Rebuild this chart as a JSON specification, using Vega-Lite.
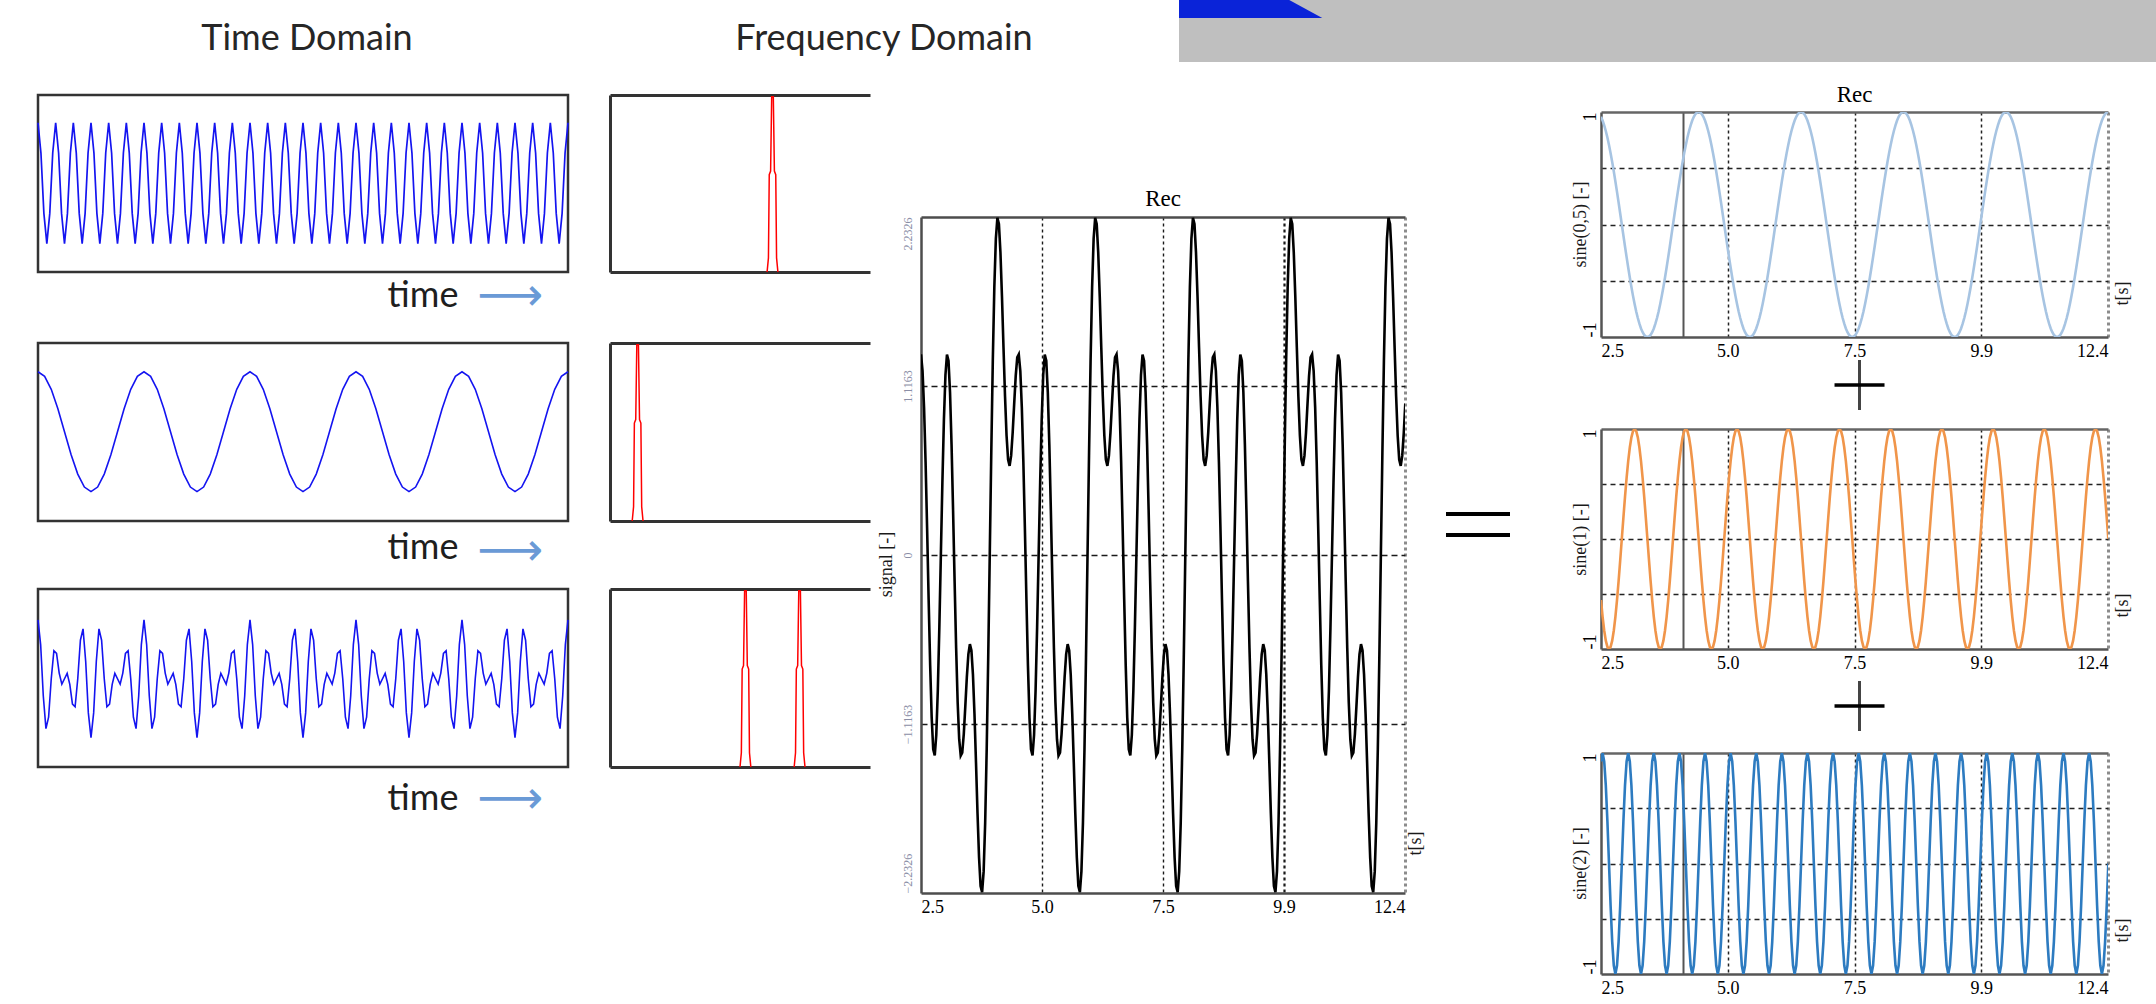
{
"$schema": "https://vega.github.io/schema/vega-lite/v6.json",
"background": "white",
"padding": {"left": 33, "top": 0, "right": 0, "bottom": 0},
"config": {
  "view": {"stroke": null},
  "axis": {"labelFont": "Liberation Serif", "titleFont": "Liberation Serif", "labelColor": "#000", "titleColor": "#1a1a1a", "titleFontWeight": "normal", "ticks": false, "tickSize": 0, "labelFontSize": 18, "titleFontSize": 18}
},
"datasets": {
"waves": [
{"t":2.5,"a":0.9569,"b":-0.5556,"c":0.9239,"s":1.3252},
{"t":2.53125,"a":0.9239,"b":-0.7071,"c":1,"s":1.2168},
{"t":2.5625,"a":0.8819,"b":-0.8315,"c":0.9239,"s":0.9743},
{"t":2.59375,"a":0.8315,"b":-0.9239,"c":0.7071,"s":0.6147},
{"t":2.625,"a":0.773,"b":-0.9808,"c":0.3827,"s":0.1749},
{"t":2.65625,"a":0.7071,"b":-1,"c":0,"s":-0.2929},
{"t":2.6875,"a":0.6344,"b":-0.9808,"c":-0.3827,"s":-0.7291},
{"t":2.71875,"a":0.5556,"b":-0.9239,"c":-0.7071,"s":-1.0754},
{"t":2.75,"a":0.4714,"b":-0.8315,"c":-0.9239,"s":-1.284},
{"t":2.78125,"a":0.3827,"b":-0.7071,"c":-1,"s":-1.3244},
{"t":2.8125,"a":0.2903,"b":-0.5556,"c":-0.9239,"s":-1.1892},
{"t":2.84375,"a":0.1951,"b":-0.3827,"c":-0.7071,"s":-0.8947},
{"t":2.875,"a":0.098,"b":-0.1951,"c":-0.3827,"s":-0.4798},
{"t":2.90625,"a":0,"b":0,"c":0,"s":0},
{"t":2.9375,"a":-0.098,"b":0.1951,"c":0.3827,"s":0.4798},
{"t":2.96875,"a":-0.1951,"b":0.3827,"c":0.7071,"s":0.8947},
{"t":3,"a":-0.2903,"b":0.5556,"c":0.9239,"s":1.1892},
{"t":3.03125,"a":-0.3827,"b":0.7071,"c":1,"s":1.3244},
{"t":3.0625,"a":-0.4714,"b":0.8315,"c":0.9239,"s":1.284},
{"t":3.09375,"a":-0.5556,"b":0.9239,"c":0.7071,"s":1.0754},
{"t":3.125,"a":-0.6344,"b":0.9808,"c":0.3827,"s":0.7291},
{"t":3.15625,"a":-0.7071,"b":1,"c":0,"s":0.2929},
{"t":3.1875,"a":-0.773,"b":0.9808,"c":-0.3827,"s":-0.1749},
{"t":3.21875,"a":-0.8315,"b":0.9239,"c":-0.7071,"s":-0.6147},
{"t":3.25,"a":-0.8819,"b":0.8315,"c":-0.9239,"s":-0.9743},
{"t":3.28125,"a":-0.9239,"b":0.7071,"c":-1,"s":-1.2168},
{"t":3.3125,"a":-0.9569,"b":0.5556,"c":-0.9239,"s":-1.3252},
{"t":3.34375,"a":-0.9808,"b":0.3827,"c":-0.7071,"s":-1.3052},
{"t":3.375,"a":-0.9952,"b":0.1951,"c":-0.3827,"s":-1.1828},
{"t":3.40625,"a":-1,"b":0,"c":0,"s":-1},
{"t":3.4375,"a":-0.9952,"b":-0.1951,"c":0.3827,"s":-0.8076},
{"t":3.46875,"a":-0.9808,"b":-0.3827,"c":0.7071,"s":-0.6564},
{"t":3.5,"a":-0.9569,"b":-0.5556,"c":0.9239,"s":-0.5886},
{"t":3.53125,"a":-0.9239,"b":-0.7071,"c":1,"s":-0.631},
{"t":3.5625,"a":-0.8819,"b":-0.8315,"c":0.9239,"s":-0.7895},
{"t":3.59375,"a":-0.8315,"b":-0.9239,"c":0.7071,"s":-1.0483},
{"t":3.625,"a":-0.773,"b":-0.9808,"c":0.3827,"s":-1.3711},
{"t":3.65625,"a":-0.7071,"b":-1,"c":0,"s":-1.7071},
{"t":3.6875,"a":-0.6344,"b":-0.9808,"c":-0.3827,"s":-1.9979},
{"t":3.71875,"a":-0.5556,"b":-0.9239,"c":-0.7071,"s":-2.1866},
{"t":3.75,"a":-0.4714,"b":-0.8315,"c":-0.9239,"s":-2.2268},
{"t":3.78125,"a":-0.3827,"b":-0.7071,"c":-1,"s":-2.0898},
{"t":3.8125,"a":-0.2903,"b":-0.5556,"c":-0.9239,"s":-1.7698},
{"t":3.84375,"a":-0.1951,"b":-0.3827,"c":-0.7071,"s":-1.2849},
{"t":3.875,"a":-0.098,"b":-0.1951,"c":-0.3827,"s":-0.6758},
{"t":3.90625,"a":0,"b":0,"c":0,"s":0},
{"t":3.9375,"a":0.098,"b":0.1951,"c":0.3827,"s":0.6758},
{"t":3.96875,"a":0.1951,"b":0.3827,"c":0.7071,"s":1.2849},
{"t":4,"a":0.2903,"b":0.5556,"c":0.9239,"s":1.7698},
{"t":4.03125,"a":0.3827,"b":0.7071,"c":1,"s":2.0898},
{"t":4.0625,"a":0.4714,"b":0.8315,"c":0.9239,"s":2.2268},
{"t":4.09375,"a":0.5556,"b":0.9239,"c":0.7071,"s":2.1866},
{"t":4.125,"a":0.6344,"b":0.9808,"c":0.3827,"s":1.9979},
{"t":4.15625,"a":0.7071,"b":1,"c":0,"s":1.7071},
{"t":4.1875,"a":0.773,"b":0.9808,"c":-0.3827,"s":1.3711},
{"t":4.21875,"a":0.8315,"b":0.9239,"c":-0.7071,"s":1.0483},
{"t":4.25,"a":0.8819,"b":0.8315,"c":-0.9239,"s":0.7895},
{"t":4.28125,"a":0.9239,"b":0.7071,"c":-1,"s":0.631},
{"t":4.3125,"a":0.9569,"b":0.5556,"c":-0.9239,"s":0.5886},
{"t":4.34375,"a":0.9808,"b":0.3827,"c":-0.7071,"s":0.6564},
{"t":4.375,"a":0.9952,"b":0.1951,"c":-0.3827,"s":0.8076},
{"t":4.40625,"a":1,"b":0,"c":0,"s":1},
{"t":4.4375,"a":0.9952,"b":-0.1951,"c":0.3827,"s":1.1828},
{"t":4.46875,"a":0.9808,"b":-0.3827,"c":0.7071,"s":1.3052},
{"t":4.5,"a":0.9569,"b":-0.5556,"c":0.9239,"s":1.3252},
{"t":4.53125,"a":0.9239,"b":-0.7071,"c":1,"s":1.2168},
{"t":4.5625,"a":0.8819,"b":-0.8315,"c":0.9239,"s":0.9743},
{"t":4.59375,"a":0.8315,"b":-0.9239,"c":0.7071,"s":0.6147},
{"t":4.625,"a":0.773,"b":-0.9808,"c":0.3827,"s":0.1749},
{"t":4.65625,"a":0.7071,"b":-1,"c":0,"s":-0.2929},
{"t":4.6875,"a":0.6344,"b":-0.9808,"c":-0.3827,"s":-0.7291},
{"t":4.71875,"a":0.5556,"b":-0.9239,"c":-0.7071,"s":-1.0754},
{"t":4.75,"a":0.4714,"b":-0.8315,"c":-0.9239,"s":-1.284},
{"t":4.78125,"a":0.3827,"b":-0.7071,"c":-1,"s":-1.3244},
{"t":4.8125,"a":0.2903,"b":-0.5556,"c":-0.9239,"s":-1.1892},
{"t":4.84375,"a":0.1951,"b":-0.3827,"c":-0.7071,"s":-0.8947},
{"t":4.875,"a":0.098,"b":-0.1951,"c":-0.3827,"s":-0.4798},
{"t":4.90625,"a":0,"b":0,"c":0,"s":0},
{"t":4.9375,"a":-0.098,"b":0.1951,"c":0.3827,"s":0.4798},
{"t":4.96875,"a":-0.1951,"b":0.3827,"c":0.7071,"s":0.8947},
{"t":5,"a":-0.2903,"b":0.5556,"c":0.9239,"s":1.1892},
{"t":5.03125,"a":-0.3827,"b":0.7071,"c":1,"s":1.3244},
{"t":5.0625,"a":-0.4714,"b":0.8315,"c":0.9239,"s":1.284},
{"t":5.09375,"a":-0.5556,"b":0.9239,"c":0.7071,"s":1.0754},
{"t":5.125,"a":-0.6344,"b":0.9808,"c":0.3827,"s":0.7291},
{"t":5.15625,"a":-0.7071,"b":1,"c":0,"s":0.2929},
{"t":5.1875,"a":-0.773,"b":0.9808,"c":-0.3827,"s":-0.1749},
{"t":5.21875,"a":-0.8315,"b":0.9239,"c":-0.7071,"s":-0.6147},
{"t":5.25,"a":-0.8819,"b":0.8315,"c":-0.9239,"s":-0.9743},
{"t":5.28125,"a":-0.9239,"b":0.7071,"c":-1,"s":-1.2168},
{"t":5.3125,"a":-0.9569,"b":0.5556,"c":-0.9239,"s":-1.3252},
{"t":5.34375,"a":-0.9808,"b":0.3827,"c":-0.7071,"s":-1.3052},
{"t":5.375,"a":-0.9952,"b":0.1951,"c":-0.3827,"s":-1.1828},
{"t":5.40625,"a":-1,"b":0,"c":0,"s":-1},
{"t":5.4375,"a":-0.9952,"b":-0.1951,"c":0.3827,"s":-0.8076},
{"t":5.46875,"a":-0.9808,"b":-0.3827,"c":0.7071,"s":-0.6564},
{"t":5.5,"a":-0.9569,"b":-0.5556,"c":0.9239,"s":-0.5886},
{"t":5.53125,"a":-0.9239,"b":-0.7071,"c":1,"s":-0.631},
{"t":5.5625,"a":-0.8819,"b":-0.8315,"c":0.9239,"s":-0.7895},
{"t":5.59375,"a":-0.8315,"b":-0.9239,"c":0.7071,"s":-1.0483},
{"t":5.625,"a":-0.773,"b":-0.9808,"c":0.3827,"s":-1.3711},
{"t":5.65625,"a":-0.7071,"b":-1,"c":0,"s":-1.7071},
{"t":5.6875,"a":-0.6344,"b":-0.9808,"c":-0.3827,"s":-1.9979},
{"t":5.71875,"a":-0.5556,"b":-0.9239,"c":-0.7071,"s":-2.1866},
{"t":5.75,"a":-0.4714,"b":-0.8315,"c":-0.9239,"s":-2.2268},
{"t":5.78125,"a":-0.3827,"b":-0.7071,"c":-1,"s":-2.0898},
{"t":5.8125,"a":-0.2903,"b":-0.5556,"c":-0.9239,"s":-1.7698},
{"t":5.84375,"a":-0.1951,"b":-0.3827,"c":-0.7071,"s":-1.2849},
{"t":5.875,"a":-0.098,"b":-0.1951,"c":-0.3827,"s":-0.6758},
{"t":5.90625,"a":0,"b":0,"c":0,"s":0},
{"t":5.9375,"a":0.098,"b":0.1951,"c":0.3827,"s":0.6758},
{"t":5.96875,"a":0.1951,"b":0.3827,"c":0.7071,"s":1.2849},
{"t":6,"a":0.2903,"b":0.5556,"c":0.9239,"s":1.7698},
{"t":6.03125,"a":0.3827,"b":0.7071,"c":1,"s":2.0898},
{"t":6.0625,"a":0.4714,"b":0.8315,"c":0.9239,"s":2.2268},
{"t":6.09375,"a":0.5556,"b":0.9239,"c":0.7071,"s":2.1866},
{"t":6.125,"a":0.6344,"b":0.9808,"c":0.3827,"s":1.9979},
{"t":6.15625,"a":0.7071,"b":1,"c":0,"s":1.7071},
{"t":6.1875,"a":0.773,"b":0.9808,"c":-0.3827,"s":1.3711},
{"t":6.21875,"a":0.8315,"b":0.9239,"c":-0.7071,"s":1.0483},
{"t":6.25,"a":0.8819,"b":0.8315,"c":-0.9239,"s":0.7895},
{"t":6.28125,"a":0.9239,"b":0.7071,"c":-1,"s":0.631},
{"t":6.3125,"a":0.9569,"b":0.5556,"c":-0.9239,"s":0.5886},
{"t":6.34375,"a":0.9808,"b":0.3827,"c":-0.7071,"s":0.6564},
{"t":6.375,"a":0.9952,"b":0.1951,"c":-0.3827,"s":0.8076},
{"t":6.40625,"a":1,"b":0,"c":0,"s":1},
{"t":6.4375,"a":0.9952,"b":-0.1951,"c":0.3827,"s":1.1828},
{"t":6.46875,"a":0.9808,"b":-0.3827,"c":0.7071,"s":1.3052},
{"t":6.5,"a":0.9569,"b":-0.5556,"c":0.9239,"s":1.3252},
{"t":6.53125,"a":0.9239,"b":-0.7071,"c":1,"s":1.2168},
{"t":6.5625,"a":0.8819,"b":-0.8315,"c":0.9239,"s":0.9743},
{"t":6.59375,"a":0.8315,"b":-0.9239,"c":0.7071,"s":0.6147},
{"t":6.625,"a":0.773,"b":-0.9808,"c":0.3827,"s":0.1749},
{"t":6.65625,"a":0.7071,"b":-1,"c":0,"s":-0.2929},
{"t":6.6875,"a":0.6344,"b":-0.9808,"c":-0.3827,"s":-0.7291},
{"t":6.71875,"a":0.5556,"b":-0.9239,"c":-0.7071,"s":-1.0754},
{"t":6.75,"a":0.4714,"b":-0.8315,"c":-0.9239,"s":-1.284},
{"t":6.78125,"a":0.3827,"b":-0.7071,"c":-1,"s":-1.3244},
{"t":6.8125,"a":0.2903,"b":-0.5556,"c":-0.9239,"s":-1.1892},
{"t":6.84375,"a":0.1951,"b":-0.3827,"c":-0.7071,"s":-0.8947},
{"t":6.875,"a":0.098,"b":-0.1951,"c":-0.3827,"s":-0.4798},
{"t":6.90625,"a":0,"b":0,"c":0,"s":0},
{"t":6.9375,"a":-0.098,"b":0.1951,"c":0.3827,"s":0.4798},
{"t":6.96875,"a":-0.1951,"b":0.3827,"c":0.7071,"s":0.8947},
{"t":7,"a":-0.2903,"b":0.5556,"c":0.9239,"s":1.1892},
{"t":7.03125,"a":-0.3827,"b":0.7071,"c":1,"s":1.3244},
{"t":7.0625,"a":-0.4714,"b":0.8315,"c":0.9239,"s":1.284},
{"t":7.09375,"a":-0.5556,"b":0.9239,"c":0.7071,"s":1.0754},
{"t":7.125,"a":-0.6344,"b":0.9808,"c":0.3827,"s":0.7291},
{"t":7.15625,"a":-0.7071,"b":1,"c":0,"s":0.2929},
{"t":7.1875,"a":-0.773,"b":0.9808,"c":-0.3827,"s":-0.1749},
{"t":7.21875,"a":-0.8315,"b":0.9239,"c":-0.7071,"s":-0.6147},
{"t":7.25,"a":-0.8819,"b":0.8315,"c":-0.9239,"s":-0.9743},
{"t":7.28125,"a":-0.9239,"b":0.7071,"c":-1,"s":-1.2168},
{"t":7.3125,"a":-0.9569,"b":0.5556,"c":-0.9239,"s":-1.3252},
{"t":7.34375,"a":-0.9808,"b":0.3827,"c":-0.7071,"s":-1.3052},
{"t":7.375,"a":-0.9952,"b":0.1951,"c":-0.3827,"s":-1.1828},
{"t":7.40625,"a":-1,"b":0,"c":0,"s":-1},
{"t":7.4375,"a":-0.9952,"b":-0.1951,"c":0.3827,"s":-0.8076},
{"t":7.46875,"a":-0.9808,"b":-0.3827,"c":0.7071,"s":-0.6564},
{"t":7.5,"a":-0.9569,"b":-0.5556,"c":0.9239,"s":-0.5886},
{"t":7.53125,"a":-0.9239,"b":-0.7071,"c":1,"s":-0.631},
{"t":7.5625,"a":-0.8819,"b":-0.8315,"c":0.9239,"s":-0.7895},
{"t":7.59375,"a":-0.8315,"b":-0.9239,"c":0.7071,"s":-1.0483},
{"t":7.625,"a":-0.773,"b":-0.9808,"c":0.3827,"s":-1.3711},
{"t":7.65625,"a":-0.7071,"b":-1,"c":0,"s":-1.7071},
{"t":7.6875,"a":-0.6344,"b":-0.9808,"c":-0.3827,"s":-1.9979},
{"t":7.71875,"a":-0.5556,"b":-0.9239,"c":-0.7071,"s":-2.1866},
{"t":7.75,"a":-0.4714,"b":-0.8315,"c":-0.9239,"s":-2.2268},
{"t":7.78125,"a":-0.3827,"b":-0.7071,"c":-1,"s":-2.0898},
{"t":7.8125,"a":-0.2903,"b":-0.5556,"c":-0.9239,"s":-1.7698},
{"t":7.84375,"a":-0.1951,"b":-0.3827,"c":-0.7071,"s":-1.2849},
{"t":7.875,"a":-0.098,"b":-0.1951,"c":-0.3827,"s":-0.6758},
{"t":7.90625,"a":0,"b":0,"c":0,"s":0},
{"t":7.9375,"a":0.098,"b":0.1951,"c":0.3827,"s":0.6758},
{"t":7.96875,"a":0.1951,"b":0.3827,"c":0.7071,"s":1.2849},
{"t":8,"a":0.2903,"b":0.5556,"c":0.9239,"s":1.7698},
{"t":8.03125,"a":0.3827,"b":0.7071,"c":1,"s":2.0898},
{"t":8.0625,"a":0.4714,"b":0.8315,"c":0.9239,"s":2.2268},
{"t":8.09375,"a":0.5556,"b":0.9239,"c":0.7071,"s":2.1866},
{"t":8.125,"a":0.6344,"b":0.9808,"c":0.3827,"s":1.9979},
{"t":8.15625,"a":0.7071,"b":1,"c":0,"s":1.7071},
{"t":8.1875,"a":0.773,"b":0.9808,"c":-0.3827,"s":1.3711},
{"t":8.21875,"a":0.8315,"b":0.9239,"c":-0.7071,"s":1.0483},
{"t":8.25,"a":0.8819,"b":0.8315,"c":-0.9239,"s":0.7895},
{"t":8.28125,"a":0.9239,"b":0.7071,"c":-1,"s":0.631},
{"t":8.3125,"a":0.9569,"b":0.5556,"c":-0.9239,"s":0.5886},
{"t":8.34375,"a":0.9808,"b":0.3827,"c":-0.7071,"s":0.6564},
{"t":8.375,"a":0.9952,"b":0.1951,"c":-0.3827,"s":0.8076},
{"t":8.40625,"a":1,"b":0,"c":0,"s":1},
{"t":8.4375,"a":0.9952,"b":-0.1951,"c":0.3827,"s":1.1828},
{"t":8.46875,"a":0.9808,"b":-0.3827,"c":0.7071,"s":1.3052},
{"t":8.5,"a":0.9569,"b":-0.5556,"c":0.9239,"s":1.3252},
{"t":8.53125,"a":0.9239,"b":-0.7071,"c":1,"s":1.2168},
{"t":8.5625,"a":0.8819,"b":-0.8315,"c":0.9239,"s":0.9743},
{"t":8.59375,"a":0.8315,"b":-0.9239,"c":0.7071,"s":0.6147},
{"t":8.625,"a":0.773,"b":-0.9808,"c":0.3827,"s":0.1749},
{"t":8.65625,"a":0.7071,"b":-1,"c":0,"s":-0.2929},
{"t":8.6875,"a":0.6344,"b":-0.9808,"c":-0.3827,"s":-0.7291},
{"t":8.71875,"a":0.5556,"b":-0.9239,"c":-0.7071,"s":-1.0754},
{"t":8.75,"a":0.4714,"b":-0.8315,"c":-0.9239,"s":-1.284},
{"t":8.78125,"a":0.3827,"b":-0.7071,"c":-1,"s":-1.3244},
{"t":8.8125,"a":0.2903,"b":-0.5556,"c":-0.9239,"s":-1.1892},
{"t":8.84375,"a":0.1951,"b":-0.3827,"c":-0.7071,"s":-0.8947},
{"t":8.875,"a":0.098,"b":-0.1951,"c":-0.3827,"s":-0.4798},
{"t":8.90625,"a":0,"b":0,"c":0,"s":0},
{"t":8.9375,"a":-0.098,"b":0.1951,"c":0.3827,"s":0.4798},
{"t":8.96875,"a":-0.1951,"b":0.3827,"c":0.7071,"s":0.8947},
{"t":9,"a":-0.2903,"b":0.5556,"c":0.9239,"s":1.1892},
{"t":9.03125,"a":-0.3827,"b":0.7071,"c":1,"s":1.3244},
{"t":9.0625,"a":-0.4714,"b":0.8315,"c":0.9239,"s":1.284},
{"t":9.09375,"a":-0.5556,"b":0.9239,"c":0.7071,"s":1.0754},
{"t":9.125,"a":-0.6344,"b":0.9808,"c":0.3827,"s":0.7291},
{"t":9.15625,"a":-0.7071,"b":1,"c":0,"s":0.2929},
{"t":9.1875,"a":-0.773,"b":0.9808,"c":-0.3827,"s":-0.1749},
{"t":9.21875,"a":-0.8315,"b":0.9239,"c":-0.7071,"s":-0.6147},
{"t":9.25,"a":-0.8819,"b":0.8315,"c":-0.9239,"s":-0.9743},
{"t":9.28125,"a":-0.9239,"b":0.7071,"c":-1,"s":-1.2168},
{"t":9.3125,"a":-0.9569,"b":0.5556,"c":-0.9239,"s":-1.3252},
{"t":9.34375,"a":-0.9808,"b":0.3827,"c":-0.7071,"s":-1.3052},
{"t":9.375,"a":-0.9952,"b":0.1951,"c":-0.3827,"s":-1.1828},
{"t":9.40625,"a":-1,"b":0,"c":0,"s":-1},
{"t":9.4375,"a":-0.9952,"b":-0.1951,"c":0.3827,"s":-0.8076},
{"t":9.46875,"a":-0.9808,"b":-0.3827,"c":0.7071,"s":-0.6564},
{"t":9.5,"a":-0.9569,"b":-0.5556,"c":0.9239,"s":-0.5886},
{"t":9.53125,"a":-0.9239,"b":-0.7071,"c":1,"s":-0.631},
{"t":9.5625,"a":-0.8819,"b":-0.8315,"c":0.9239,"s":-0.7895},
{"t":9.59375,"a":-0.8315,"b":-0.9239,"c":0.7071,"s":-1.0483},
{"t":9.625,"a":-0.773,"b":-0.9808,"c":0.3827,"s":-1.3711},
{"t":9.65625,"a":-0.7071,"b":-1,"c":0,"s":-1.7071},
{"t":9.6875,"a":-0.6344,"b":-0.9808,"c":-0.3827,"s":-1.9979},
{"t":9.71875,"a":-0.5556,"b":-0.9239,"c":-0.7071,"s":-2.1866},
{"t":9.75,"a":-0.4714,"b":-0.8315,"c":-0.9239,"s":-2.2268},
{"t":9.78125,"a":-0.3827,"b":-0.7071,"c":-1,"s":-2.0898},
{"t":9.8125,"a":-0.2903,"b":-0.5556,"c":-0.9239,"s":-1.7698},
{"t":9.84375,"a":-0.1951,"b":-0.3827,"c":-0.7071,"s":-1.2849},
{"t":9.875,"a":-0.098,"b":-0.1951,"c":-0.3827,"s":-0.6758},
{"t":9.90625,"a":0,"b":0,"c":0,"s":0},
{"t":9.9375,"a":0.098,"b":0.1951,"c":0.3827,"s":0.6758},
{"t":9.96875,"a":0.1951,"b":0.3827,"c":0.7071,"s":1.2849},
{"t":10,"a":0.2903,"b":0.5556,"c":0.9239,"s":1.7698},
{"t":10.03125,"a":0.3827,"b":0.7071,"c":1,"s":2.0898},
{"t":10.0625,"a":0.4714,"b":0.8315,"c":0.9239,"s":2.2268},
{"t":10.09375,"a":0.5556,"b":0.9239,"c":0.7071,"s":2.1866},
{"t":10.125,"a":0.6344,"b":0.9808,"c":0.3827,"s":1.9979},
{"t":10.15625,"a":0.7071,"b":1,"c":0,"s":1.7071},
{"t":10.1875,"a":0.773,"b":0.9808,"c":-0.3827,"s":1.3711},
{"t":10.21875,"a":0.8315,"b":0.9239,"c":-0.7071,"s":1.0483},
{"t":10.25,"a":0.8819,"b":0.8315,"c":-0.9239,"s":0.7895},
{"t":10.28125,"a":0.9239,"b":0.7071,"c":-1,"s":0.631},
{"t":10.3125,"a":0.9569,"b":0.5556,"c":-0.9239,"s":0.5886},
{"t":10.34375,"a":0.9808,"b":0.3827,"c":-0.7071,"s":0.6564},
{"t":10.375,"a":0.9952,"b":0.1951,"c":-0.3827,"s":0.8076},
{"t":10.40625,"a":1,"b":0,"c":0,"s":1},
{"t":10.4375,"a":0.9952,"b":-0.1951,"c":0.3827,"s":1.1828},
{"t":10.46875,"a":0.9808,"b":-0.3827,"c":0.7071,"s":1.3052},
{"t":10.5,"a":0.9569,"b":-0.5556,"c":0.9239,"s":1.3252},
{"t":10.53125,"a":0.9239,"b":-0.7071,"c":1,"s":1.2168},
{"t":10.5625,"a":0.8819,"b":-0.8315,"c":0.9239,"s":0.9743},
{"t":10.59375,"a":0.8315,"b":-0.9239,"c":0.7071,"s":0.6147},
{"t":10.625,"a":0.773,"b":-0.9808,"c":0.3827,"s":0.1749},
{"t":10.65625,"a":0.7071,"b":-1,"c":0,"s":-0.2929},
{"t":10.6875,"a":0.6344,"b":-0.9808,"c":-0.3827,"s":-0.7291},
{"t":10.71875,"a":0.5556,"b":-0.9239,"c":-0.7071,"s":-1.0754},
{"t":10.75,"a":0.4714,"b":-0.8315,"c":-0.9239,"s":-1.284},
{"t":10.78125,"a":0.3827,"b":-0.7071,"c":-1,"s":-1.3244},
{"t":10.8125,"a":0.2903,"b":-0.5556,"c":-0.9239,"s":-1.1892},
{"t":10.84375,"a":0.1951,"b":-0.3827,"c":-0.7071,"s":-0.8947},
{"t":10.875,"a":0.098,"b":-0.1951,"c":-0.3827,"s":-0.4798},
{"t":10.90625,"a":0,"b":0,"c":0,"s":0},
{"t":10.9375,"a":-0.098,"b":0.1951,"c":0.3827,"s":0.4798},
{"t":10.96875,"a":-0.1951,"b":0.3827,"c":0.7071,"s":0.8947},
{"t":11,"a":-0.2903,"b":0.5556,"c":0.9239,"s":1.1892},
{"t":11.03125,"a":-0.3827,"b":0.7071,"c":1,"s":1.3244},
{"t":11.0625,"a":-0.4714,"b":0.8315,"c":0.9239,"s":1.284},
{"t":11.09375,"a":-0.5556,"b":0.9239,"c":0.7071,"s":1.0754},
{"t":11.125,"a":-0.6344,"b":0.9808,"c":0.3827,"s":0.7291},
{"t":11.15625,"a":-0.7071,"b":1,"c":0,"s":0.2929},
{"t":11.1875,"a":-0.773,"b":0.9808,"c":-0.3827,"s":-0.1749},
{"t":11.21875,"a":-0.8315,"b":0.9239,"c":-0.7071,"s":-0.6147},
{"t":11.25,"a":-0.8819,"b":0.8315,"c":-0.9239,"s":-0.9743},
{"t":11.28125,"a":-0.9239,"b":0.7071,"c":-1,"s":-1.2168},
{"t":11.3125,"a":-0.9569,"b":0.5556,"c":-0.9239,"s":-1.3252},
{"t":11.34375,"a":-0.9808,"b":0.3827,"c":-0.7071,"s":-1.3052},
{"t":11.375,"a":-0.9952,"b":0.1951,"c":-0.3827,"s":-1.1828},
{"t":11.40625,"a":-1,"b":0,"c":0,"s":-1},
{"t":11.4375,"a":-0.9952,"b":-0.1951,"c":0.3827,"s":-0.8076},
{"t":11.46875,"a":-0.9808,"b":-0.3827,"c":0.7071,"s":-0.6564},
{"t":11.5,"a":-0.9569,"b":-0.5556,"c":0.9239,"s":-0.5886},
{"t":11.53125,"a":-0.9239,"b":-0.7071,"c":1,"s":-0.631},
{"t":11.5625,"a":-0.8819,"b":-0.8315,"c":0.9239,"s":-0.7895},
{"t":11.59375,"a":-0.8315,"b":-0.9239,"c":0.7071,"s":-1.0483},
{"t":11.625,"a":-0.773,"b":-0.9808,"c":0.3827,"s":-1.3711},
{"t":11.65625,"a":-0.7071,"b":-1,"c":0,"s":-1.7071},
{"t":11.6875,"a":-0.6344,"b":-0.9808,"c":-0.3827,"s":-1.9979},
{"t":11.71875,"a":-0.5556,"b":-0.9239,"c":-0.7071,"s":-2.1866},
{"t":11.75,"a":-0.4714,"b":-0.8315,"c":-0.9239,"s":-2.2268},
{"t":11.78125,"a":-0.3827,"b":-0.7071,"c":-1,"s":-2.0898},
{"t":11.8125,"a":-0.2903,"b":-0.5556,"c":-0.9239,"s":-1.7698},
{"t":11.84375,"a":-0.1951,"b":-0.3827,"c":-0.7071,"s":-1.2849},
{"t":11.875,"a":-0.098,"b":-0.1951,"c":-0.3827,"s":-0.6758},
{"t":11.90625,"a":0,"b":0,"c":0,"s":0},
{"t":11.9375,"a":0.098,"b":0.1951,"c":0.3827,"s":0.6758},
{"t":11.96875,"a":0.1951,"b":0.3827,"c":0.7071,"s":1.2849},
{"t":12,"a":0.2903,"b":0.5556,"c":0.9239,"s":1.7698},
{"t":12.03125,"a":0.3827,"b":0.7071,"c":1,"s":2.0898},
{"t":12.0625,"a":0.4714,"b":0.8315,"c":0.9239,"s":2.2268},
{"t":12.09375,"a":0.5556,"b":0.9239,"c":0.7071,"s":2.1866},
{"t":12.125,"a":0.6344,"b":0.9808,"c":0.3827,"s":1.9979},
{"t":12.15625,"a":0.7071,"b":1,"c":0,"s":1.7071},
{"t":12.1875,"a":0.773,"b":0.9808,"c":-0.3827,"s":1.3711},
{"t":12.21875,"a":0.8315,"b":0.9239,"c":-0.7071,"s":1.0483},
{"t":12.25,"a":0.8819,"b":0.8315,"c":-0.9239,"s":0.7895},
{"t":12.28125,"a":0.9239,"b":0.7071,"c":-1,"s":0.631},
{"t":12.3125,"a":0.9569,"b":0.5556,"c":-0.9239,"s":0.5886},
{"t":12.34375,"a":0.9808,"b":0.3827,"c":-0.7071,"s":0.6564},
{"t":12.375,"a":0.9952,"b":0.1951,"c":-0.3827,"s":0.8076},
{"t":12.40625,"a":1,"b":0,"c":0,"s":1}
],
"td1": [
{"x":0,"y":1},{"x":1,"y":0.5},{"x":2,"y":-0.5},{"x":3,"y":-1},{"x":4,"y":-0.5},{"x":5,"y":0.5},
{"x":6,"y":1},{"x":7,"y":0.5},{"x":8,"y":-0.5},{"x":9,"y":-1},{"x":10,"y":-0.5},{"x":11,"y":0.5},
{"x":12,"y":1},{"x":13,"y":0.5},{"x":14,"y":-0.5},{"x":15,"y":-1},{"x":16,"y":-0.5},{"x":17,"y":0.5},
{"x":18,"y":1},{"x":19,"y":0.5},{"x":20,"y":-0.5},{"x":21,"y":-1},{"x":22,"y":-0.5},{"x":23,"y":0.5},
{"x":24,"y":1},{"x":25,"y":0.5},{"x":26,"y":-0.5},{"x":27,"y":-1},{"x":28,"y":-0.5},{"x":29,"y":0.5},
{"x":30,"y":1},{"x":31,"y":0.5},{"x":32,"y":-0.5},{"x":33,"y":-1},{"x":34,"y":-0.5},{"x":35,"y":0.5},
{"x":36,"y":1},{"x":37,"y":0.5},{"x":38,"y":-0.5},{"x":39,"y":-1},{"x":40,"y":-0.5},{"x":41,"y":0.5},
{"x":42,"y":1},{"x":43,"y":0.5},{"x":44,"y":-0.5},{"x":45,"y":-1},{"x":46,"y":-0.5},{"x":47,"y":0.5},
{"x":48,"y":1},{"x":49,"y":0.5},{"x":50,"y":-0.5},{"x":51,"y":-1},{"x":52,"y":-0.5},{"x":53,"y":0.5},
{"x":54,"y":1},{"x":55,"y":0.5},{"x":56,"y":-0.5},{"x":57,"y":-1},{"x":58,"y":-0.5},{"x":59,"y":0.5},
{"x":60,"y":1},{"x":61,"y":0.5},{"x":62,"y":-0.5},{"x":63,"y":-1},{"x":64,"y":-0.5},{"x":65,"y":0.5},
{"x":66,"y":1},{"x":67,"y":0.5},{"x":68,"y":-0.5},{"x":69,"y":-1},{"x":70,"y":-0.5},{"x":71,"y":0.5},
{"x":72,"y":1},{"x":73,"y":0.5},{"x":74,"y":-0.5},{"x":75,"y":-1},{"x":76,"y":-0.5},{"x":77,"y":0.5},
{"x":78,"y":1},{"x":79,"y":0.5},{"x":80,"y":-0.5},{"x":81,"y":-1},{"x":82,"y":-0.5},{"x":83,"y":0.5},
{"x":84,"y":1},{"x":85,"y":0.5},{"x":86,"y":-0.5},{"x":87,"y":-1},{"x":88,"y":-0.5},{"x":89,"y":0.5},
{"x":90,"y":1},{"x":91,"y":0.5},{"x":92,"y":-0.5},{"x":93,"y":-1},{"x":94,"y":-0.5},{"x":95,"y":0.5},
{"x":96,"y":1},{"x":97,"y":0.5},{"x":98,"y":-0.5},{"x":99,"y":-1},{"x":100,"y":-0.5},{"x":101,"y":0.5},
{"x":102,"y":1},{"x":103,"y":0.5},{"x":104,"y":-0.5},{"x":105,"y":-1},{"x":106,"y":-0.5},{"x":107,"y":0.5},
{"x":108,"y":1},{"x":109,"y":0.5},{"x":110,"y":-0.5},{"x":111,"y":-1},{"x":112,"y":-0.5},{"x":113,"y":0.5},
{"x":114,"y":1},{"x":115,"y":0.5},{"x":116,"y":-0.5},{"x":117,"y":-1},{"x":118,"y":-0.5},{"x":119,"y":0.5},
{"x":120,"y":1},{"x":121,"y":0.5},{"x":122,"y":-0.5},{"x":123,"y":-1},{"x":124,"y":-0.5},{"x":125,"y":0.5},
{"x":126,"y":1},{"x":127,"y":0.5},{"x":128,"y":-0.5},{"x":129,"y":-1},{"x":130,"y":-0.5},{"x":131,"y":0.5},
{"x":132,"y":1},{"x":133,"y":0.5},{"x":134,"y":-0.5},{"x":135,"y":-1},{"x":136,"y":-0.5},{"x":137,"y":0.5},
{"x":138,"y":1},{"x":139,"y":0.5},{"x":140,"y":-0.5},{"x":141,"y":-1},{"x":142,"y":-0.5},{"x":143,"y":0.5},
{"x":144,"y":1},{"x":145,"y":0.5},{"x":146,"y":-0.5},{"x":147,"y":-1},{"x":148,"y":-0.5},{"x":149,"y":0.5},
{"x":150,"y":1},{"x":151,"y":0.5},{"x":152,"y":-0.5},{"x":153,"y":-1},{"x":154,"y":-0.5},{"x":155,"y":0.5},
{"x":156,"y":1},{"x":157,"y":0.5},{"x":158,"y":-0.5},{"x":159,"y":-1},{"x":160,"y":-0.5},{"x":161,"y":0.5},
{"x":162,"y":1},{"x":163,"y":0.5},{"x":164,"y":-0.5},{"x":165,"y":-1},{"x":166,"y":-0.5},{"x":167,"y":0.5},
{"x":168,"y":1},{"x":169,"y":0.5},{"x":170,"y":-0.5},{"x":171,"y":-1},{"x":172,"y":-0.5},{"x":173,"y":0.5},
{"x":174,"y":1},{"x":175,"y":0.5},{"x":176,"y":-0.5},{"x":177,"y":-1},{"x":178,"y":-0.5},{"x":179,"y":0.5},
{"x":180,"y":1}
],
"td2": [
{"x":0,"y":1},{"x":1,"y":0.9239},{"x":2,"y":0.7071},{"x":3,"y":0.3827},{"x":4,"y":0},{"x":5,"y":-0.3827},{"x":6,"y":-0.7071},{"x":7,"y":-0.9239},
{"x":8,"y":-1},{"x":9,"y":-0.9239},{"x":10,"y":-0.7071},{"x":11,"y":-0.3827},{"x":12,"y":0},{"x":13,"y":0.3827},{"x":14,"y":0.7071},{"x":15,"y":0.9239},
{"x":16,"y":1},{"x":17,"y":0.9239},{"x":18,"y":0.7071},{"x":19,"y":0.3827},{"x":20,"y":0},{"x":21,"y":-0.3827},{"x":22,"y":-0.7071},{"x":23,"y":-0.9239},
{"x":24,"y":-1},{"x":25,"y":-0.9239},{"x":26,"y":-0.7071},{"x":27,"y":-0.3827},{"x":28,"y":0},{"x":29,"y":0.3827},{"x":30,"y":0.7071},{"x":31,"y":0.9239},
{"x":32,"y":1},{"x":33,"y":0.9239},{"x":34,"y":0.7071},{"x":35,"y":0.3827},{"x":36,"y":0},{"x":37,"y":-0.3827},{"x":38,"y":-0.7071},{"x":39,"y":-0.9239},
{"x":40,"y":-1},{"x":41,"y":-0.9239},{"x":42,"y":-0.7071},{"x":43,"y":-0.3827},{"x":44,"y":0},{"x":45,"y":0.3827},{"x":46,"y":0.7071},{"x":47,"y":0.9239},
{"x":48,"y":1},{"x":49,"y":0.9239},{"x":50,"y":0.7071},{"x":51,"y":0.3827},{"x":52,"y":0},{"x":53,"y":-0.3827},{"x":54,"y":-0.7071},{"x":55,"y":-0.9239},
{"x":56,"y":-1},{"x":57,"y":-0.9239},{"x":58,"y":-0.7071},{"x":59,"y":-0.3827},{"x":60,"y":0},{"x":61,"y":0.3827},{"x":62,"y":0.7071},{"x":63,"y":0.9239},
{"x":64,"y":1},{"x":65,"y":0.9239},{"x":66,"y":0.7071},{"x":67,"y":0.3827},{"x":68,"y":0},{"x":69,"y":-0.3827},{"x":70,"y":-0.7071},{"x":71,"y":-0.9239},
{"x":72,"y":-1},{"x":73,"y":-0.9239},{"x":74,"y":-0.7071},{"x":75,"y":-0.3827},{"x":76,"y":0},{"x":77,"y":0.3827},{"x":78,"y":0.7071},{"x":79,"y":0.9239},
{"x":80,"y":1}
],
"td3": [
{"x":0,"y":2},{"x":1,"y":1.1611},{"x":2,"y":-0.5878},{"x":3,"y":-1.6948},{"x":4,"y":-1.309},{"x":5,"y":0},{"x":6,"y":0.9511},{"x":7,"y":0.8635},{"x":8,"y":0.191},{"x":9,"y":-0.1839},
{"x":10,"y":0},{"x":11,"y":0.1839},{"x":12,"y":-0.191},{"x":13,"y":-0.8635},{"x":14,"y":-0.9511},{"x":15,"y":0},{"x":16,"y":1.309},{"x":17,"y":1.6948},{"x":18,"y":0.5878},{"x":19,"y":-1.1611},
{"x":20,"y":-2},{"x":21,"y":-1.1611},{"x":22,"y":0.5878},{"x":23,"y":1.6948},{"x":24,"y":1.309},{"x":25,"y":0},{"x":26,"y":-0.9511},{"x":27,"y":-0.8635},{"x":28,"y":-0.191},{"x":29,"y":0.1839},
{"x":30,"y":0},{"x":31,"y":-0.1839},{"x":32,"y":0.191},{"x":33,"y":0.8635},{"x":34,"y":0.9511},{"x":35,"y":0},{"x":36,"y":-1.309},{"x":37,"y":-1.6948},{"x":38,"y":-0.5878},{"x":39,"y":1.1611},
{"x":40,"y":2},{"x":41,"y":1.1611},{"x":42,"y":-0.5878},{"x":43,"y":-1.6948},{"x":44,"y":-1.309},{"x":45,"y":0},{"x":46,"y":0.9511},{"x":47,"y":0.8635},{"x":48,"y":0.191},{"x":49,"y":-0.1839},
{"x":50,"y":0},{"x":51,"y":0.1839},{"x":52,"y":-0.191},{"x":53,"y":-0.8635},{"x":54,"y":-0.9511},{"x":55,"y":0},{"x":56,"y":1.309},{"x":57,"y":1.6948},{"x":58,"y":0.5878},{"x":59,"y":-1.1611},
{"x":60,"y":-2},{"x":61,"y":-1.1611},{"x":62,"y":0.5878},{"x":63,"y":1.6948},{"x":64,"y":1.309},{"x":65,"y":0},{"x":66,"y":-0.9511},{"x":67,"y":-0.8635},{"x":68,"y":-0.191},{"x":69,"y":0.1839},
{"x":70,"y":0},{"x":71,"y":-0.1839},{"x":72,"y":0.191},{"x":73,"y":0.8635},{"x":74,"y":0.9511},{"x":75,"y":0},{"x":76,"y":-1.309},{"x":77,"y":-1.6948},{"x":78,"y":-0.5878},{"x":79,"y":1.1611},
{"x":80,"y":2},{"x":81,"y":1.1611},{"x":82,"y":-0.5878},{"x":83,"y":-1.6948},{"x":84,"y":-1.309},{"x":85,"y":0},{"x":86,"y":0.9511},{"x":87,"y":0.8635},{"x":88,"y":0.191},{"x":89,"y":-0.1839},
{"x":90,"y":0},{"x":91,"y":0.1839},{"x":92,"y":-0.191},{"x":93,"y":-0.8635},{"x":94,"y":-0.9511},{"x":95,"y":0},{"x":96,"y":1.309},{"x":97,"y":1.6948},{"x":98,"y":0.5878},{"x":99,"y":-1.1611},
{"x":100,"y":-2},{"x":101,"y":-1.1611},{"x":102,"y":0.5878},{"x":103,"y":1.6948},{"x":104,"y":1.309},{"x":105,"y":0},{"x":106,"y":-0.9511},{"x":107,"y":-0.8635},{"x":108,"y":-0.191},{"x":109,"y":0.1839},
{"x":110,"y":0},{"x":111,"y":-0.1839},{"x":112,"y":0.191},{"x":113,"y":0.8635},{"x":114,"y":0.9511},{"x":115,"y":0},{"x":116,"y":-1.309},{"x":117,"y":-1.6948},{"x":118,"y":-0.5878},{"x":119,"y":1.1611},
{"x":120,"y":2},{"x":121,"y":1.1611},{"x":122,"y":-0.5878},{"x":123,"y":-1.6948},{"x":124,"y":-1.309},{"x":125,"y":0},{"x":126,"y":0.9511},{"x":127,"y":0.8635},{"x":128,"y":0.191},{"x":129,"y":-0.1839},
{"x":130,"y":0},{"x":131,"y":0.1839},{"x":132,"y":-0.191},{"x":133,"y":-0.8635},{"x":134,"y":-0.9511},{"x":135,"y":0},{"x":136,"y":1.309},{"x":137,"y":1.6948},{"x":138,"y":0.5878},{"x":139,"y":-1.1611},
{"x":140,"y":-2},{"x":141,"y":-1.1611},{"x":142,"y":0.5878},{"x":143,"y":1.6948},{"x":144,"y":1.309},{"x":145,"y":0},{"x":146,"y":-0.9511},{"x":147,"y":-0.8635},{"x":148,"y":-0.191},{"x":149,"y":0.1839},
{"x":150,"y":0},{"x":151,"y":-0.1839},{"x":152,"y":0.191},{"x":153,"y":0.8635},{"x":154,"y":0.9511},{"x":155,"y":0},{"x":156,"y":-1.309},{"x":157,"y":-1.6948},{"x":158,"y":-0.5878},{"x":159,"y":1.1611},
{"x":160,"y":2},{"x":161,"y":1.1611},{"x":162,"y":-0.5878},{"x":163,"y":-1.6948},{"x":164,"y":-1.309},{"x":165,"y":0},{"x":166,"y":0.9511},{"x":167,"y":0.8635},{"x":168,"y":0.191},{"x":169,"y":-0.1839},
{"x":170,"y":0},{"x":171,"y":0.1839},{"x":172,"y":-0.191},{"x":173,"y":-0.8635},{"x":174,"y":-0.9511},{"x":175,"y":0},{"x":176,"y":1.309},{"x":177,"y":1.6948},{"x":178,"y":0.5878},{"x":179,"y":-1.1611},
{"x":180,"y":-2},{"x":181,"y":-1.1611},{"x":182,"y":0.5878},{"x":183,"y":1.6948},{"x":184,"y":1.309},{"x":185,"y":0},{"x":186,"y":-0.9511},{"x":187,"y":-0.8635},{"x":188,"y":-0.191},{"x":189,"y":0.1839},
{"x":190,"y":0},{"x":191,"y":-0.1839},{"x":192,"y":0.191},{"x":193,"y":0.8635},{"x":194,"y":0.9511},{"x":195,"y":0},{"x":196,"y":-1.309},{"x":197,"y":-1.6948},{"x":198,"y":-0.5878},{"x":199,"y":1.1611},
{"x":200,"y":2}
],
"fd1": [
{"k":1,"f":29,"m":0},{"k":1,"f":29.25,"m":0.08},{"k":1,"f":29.4,"m":0.55},{"k":1,"f":29.65,"m":0.57},{"k":1,"f":29.85,"m":0.99},
{"k":1,"f":30.15,"m":0.99},{"k":1,"f":30.35,"m":0.57},{"k":1,"f":30.6,"m":0.55},{"k":1,"f":30.75,"m":0.08},{"k":1,"f":31,"m":0}
],
"fd2": [
{"k":1,"f":4.1,"m":0},{"k":1,"f":4.35,"m":0.08},{"k":1,"f":4.5,"m":0.55},{"k":1,"f":4.75,"m":0.57},{"k":1,"f":4.95,"m":0.99},
{"k":1,"f":5.25,"m":0.99},{"k":1,"f":5.45,"m":0.57},{"k":1,"f":5.7,"m":0.55},{"k":1,"f":5.85,"m":0.08},{"k":1,"f":6.1,"m":0}
],
"fd3": [
{"k":1,"f":24,"m":0},{"k":1,"f":24.25,"m":0.08},{"k":1,"f":24.4,"m":0.55},{"k":1,"f":24.65,"m":0.57},{"k":1,"f":24.85,"m":0.99},
{"k":1,"f":25.15,"m":0.99},{"k":1,"f":25.35,"m":0.57},{"k":1,"f":25.6,"m":0.55},{"k":1,"f":25.75,"m":0.08},{"k":1,"f":26,"m":0},
{"k":2,"f":34,"m":0},{"k":2,"f":34.25,"m":0.08},{"k":2,"f":34.4,"m":0.55},{"k":2,"f":34.65,"m":0.57},{"k":2,"f":34.85,"m":0.99},
{"k":2,"f":35.15,"m":0.99},{"k":2,"f":35.35,"m":0.57},{"k":2,"f":35.6,"m":0.55},{"k":2,"f":35.75,"m":0.08},{"k":2,"f":36,"m":0}
]
},
"spacing": 0,
"vconcat": [
{
  "hconcat": [
    {"width": 530, "height": 62, "data": {"values": [{}]}, "mark": {"type": "text", "text": "Time Domain", "font": "Lato", "fontSize": 36, "color": "#262626", "baseline": "alphabetic", "dx": 4, "dy": 19}},
    {"width": 44, "height": 62, "data": {"values": [{}]}, "mark": {"type": "point", "opacity": 0}},
    {"width": 530, "height": 62, "data": {"values": [{}]}, "mark": {"type": "text", "text": "Frequency Domain", "font": "Lato", "fontSize": 36, "color": "#262626", "baseline": "alphabetic", "dx": 7, "dy": 19}},
    {"width": 37, "height": 62, "data": {"values": [{}]}, "mark": {"type": "point", "opacity": 0}},
    {"width": 980, "height": 62, "view": {"fill": "#bfbfbf", "stroke": null},
     "data": {"values": [{"u": 0, "v0": 0.71, "v1": 1}, {"u": 0.1125, "v0": 0.71, "v1": 1}, {"u": 0.1462, "v0": 0.71, "v1": 0.71}]},
     "mark": {"type": "area", "color": "#0a23d8"},
     "encoding": {
       "x": {"field": "u", "type": "quantitative", "scale": {"domain": [0, 1], "nice": false}, "axis": null},
       "y": {"field": "v1", "type": "quantitative", "scale": {"domain": [0, 1], "nice": false}, "axis": null},
       "y2": {"field": "v0"}
     }}
  ],
  "spacing": 0,
  "bounds": "flush"
},
{
  "spacing": 0,
  "hconcat": [
    {
      "spacing": 0, "bounds": "flush",
      "vconcat": [
        {"width": 530, "height": 30, "data": {"values": [{}]}, "mark": {"type": "point", "opacity": 0}},
        {"width": 530, "height": 177, "view": {"stroke": "#333", "strokeWidth": 2.5}, "data": {"name": "td1"},
         "mark": {"type": "line", "color": "#1414f0", "strokeWidth": 1.7},
         "encoding": {"x": {"field": "x", "type": "quantitative", "scale": {"domain": [0, 180], "nice": false}, "axis": null},
                      "y": {"field": "y", "type": "quantitative", "scale": {"domain": [-1.47, 1.46], "nice": false, "zero": false}, "axis": null}}},
        {"width": 530, "height": 71, "data": {"values": [{}]},
         "layer": [
           {"mark": {"type": "text", "text": "time", "font": "Lato", "fontSize": 36, "color": "#1e1e1e", "baseline": "alphabetic", "dx": 120, "dy": -0.5}},
           {"mark": {"type": "text", "text": "⟶", "font": "DejaVu Sans", "fontSize": 46, "color": "#6a9ad6", "baseline": "middle", "dx": 207, "dy": -11.5}}
         ]},
        {"width": 530, "height": 178, "view": {"stroke": "#333", "strokeWidth": 2.5}, "data": {"name": "td2"},
         "mark": {"type": "line", "color": "#1414f0", "strokeWidth": 1.6},
         "encoding": {"x": {"field": "x", "type": "quantitative", "scale": {"domain": [0, 80], "nice": false}, "axis": null},
                      "y": {"field": "y", "type": "quantitative", "scale": {"domain": [-1.49, 1.48], "nice": false, "zero": false}, "axis": null}}},
        {"width": 530, "height": 68, "data": {"values": [{}]},
         "layer": [
           {"mark": {"type": "text", "text": "time", "font": "Lato", "fontSize": 36, "color": "#1e1e1e", "baseline": "alphabetic", "dx": 120, "dy": 4}},
           {"mark": {"type": "text", "text": "⟶", "font": "DejaVu Sans", "fontSize": 46, "color": "#6a9ad6", "baseline": "middle", "dx": 207, "dy": -4}}
         ]},
        {"width": 530, "height": 178, "view": {"stroke": "#333", "strokeWidth": 2.5}, "data": {"name": "td3"},
         "mark": {"type": "line", "color": "#1414f0", "strokeWidth": 1.6},
         "encoding": {"x": {"field": "x", "type": "quantitative", "scale": {"domain": [0, 200], "nice": false}, "axis": null},
                      "y": {"field": "y", "type": "quantitative", "scale": {"domain": [-3.0, 3.05], "nice": false, "zero": false}, "axis": null}}},
        {"width": 530, "height": 70, "data": {"values": [{}]},
         "layer": [
           {"mark": {"type": "text", "text": "time", "font": "Lato", "fontSize": 36, "color": "#1e1e1e", "baseline": "alphabetic", "dx": 120, "dy": 8}},
           {"mark": {"type": "text", "text": "⟶", "font": "DejaVu Sans", "fontSize": 46, "color": "#6a9ad6", "baseline": "middle", "dx": 207, "dy": -3}}
         ]}
      ]
    },
    {"width": 36.75, "height": 1, "data": {"values": [{}]}, "mark": {"type": "point", "opacity": 0}},
    {
      "spacing": 0, "bounds": "flush",
      "vconcat": [
        {"width": 260, "height": 30, "data": {"values": [{}]}, "mark": {"type": "point", "opacity": 0}},
        {"width": 260, "height": 177, "data": {"name": "fd1"},
         "mark": {"type": "line", "color": "#ff0000", "strokeWidth": 1.5},
         "encoding": {
           "x": {"field": "f", "type": "quantitative", "scale": {"domain": [0, 48], "nice": false, "zero": false}, "axis": {"domainColor": "#333", "domainWidth": 3, "domainCap": "butt", "labels": false, "grid": false, "title": null}},
           "y": {"field": "m", "type": "quantitative", "scale": {"domain": [0, 1], "nice": false}, "axis": {"values": [1], "domainColor": "#333", "domainWidth": 3, "labels": false, "grid": true, "gridColor": "#333", "gridWidth": 3, "gridDash": [], "title": null}},
           "detail": {"field": "k"}}},
        {"width": 260, "height": 71, "data": {"values": [{}]}, "mark": {"type": "point", "opacity": 0}},
        {"width": 260, "height": 178, "data": {"name": "fd2"},
         "mark": {"type": "line", "color": "#ff0000", "strokeWidth": 1.5},
         "encoding": {
           "x": {"field": "f", "type": "quantitative", "scale": {"domain": [0, 48], "nice": false, "zero": false}, "axis": {"domainColor": "#333", "domainWidth": 3, "domainCap": "butt", "labels": false, "grid": false, "title": null}},
           "y": {"field": "m", "type": "quantitative", "scale": {"domain": [0, 1], "nice": false}, "axis": {"values": [1], "domainColor": "#333", "domainWidth": 3, "labels": false, "grid": true, "gridColor": "#333", "gridWidth": 3, "gridDash": [], "title": null}},
           "detail": {"field": "k"}}},
        {"width": 260, "height": 68, "data": {"values": [{}]}, "mark": {"type": "point", "opacity": 0}},
        {"width": 260, "height": 178, "data": {"name": "fd3"},
         "mark": {"type": "line", "color": "#ff0000", "strokeWidth": 1.5},
         "encoding": {
           "x": {"field": "f", "type": "quantitative", "scale": {"domain": [0, 48], "nice": false, "zero": false}, "axis": {"domainColor": "#333", "domainWidth": 3, "domainCap": "butt", "labels": false, "grid": false, "title": null}},
           "y": {"field": "m", "type": "quantitative", "scale": {"domain": [0, 1], "nice": false}, "axis": {"values": [1], "domainColor": "#333", "domainWidth": 3, "labels": false, "grid": true, "gridColor": "#333", "gridWidth": 3, "gridDash": [], "title": null}},
           "detail": {"field": "k"}}}
      ]
    },
    {"width": 5, "height": 1, "data": {"values": [{}]}, "mark": {"type": "point", "opacity": 0}},
    {
      "spacing": 0, "bounds": "flush",
      "vconcat": [
        {"width": 484, "height": 152, "data": {"values": [{}]}, "mark": {"type": "point", "opacity": 0}},
        {"width": 484, "height": 676, "data": {"name": "waves"},
         "title": {"text": "Rec", "font": "Liberation Serif", "fontSize": 23, "fontWeight": "normal", "color": "#000", "offset": -12, "baseline": "alphabetic"},
         "mark": {"type": "line", "color": "#000", "strokeWidth": 2.6, "clip": true},
         "encoding": {
           "x": {"field": "t", "type": "quantitative", "scale": {"domain": [2.5, 12.4], "nice": false, "zero": false},
                 "axis": {"values": [2.5, 4.975, 7.45, 9.925, 12.4], "format": ".1f", "labelFlush": true, "labelPadding": 5, "labelFontSize": 18,
                          "title": "t[s]", "titleFontSize": 18, "titleAngle": 270, "titleX": 494, "titleY": -50, "titleAlign": "center", "titleBaseline": "middle",
                          "domainColor": "#4d4d4d", "domainWidth": 2.5, "grid": true, "gridDash": [3, 3],
                          "gridColor": {"condition": {"test": "datum.value > 12", "value": "#8c8c8c"}, "value": "#1a1a1a"},
                          "gridWidth": {"condition": [{"test": "datum.value > 12", "value": 3}, {"test": "abs(datum.value - 9.925) < 0.01", "value": 2.2}], "value": 1.4},
                          "gridOpacity": {"condition": {"test": "datum.value < 3", "value": 0}, "value": 1}}},
           "y": {"field": "s", "type": "quantitative", "scale": {"domain": [-2.2326, 2.2326], "nice": false, "zero": false},
                 "axis": {"values": [-2.2326, -1.1163, 0, 1.1163, 2.2326], "format": ".4~f", "labelAngle": 270, "labelBaseline": "middle", "labelPadding": 14, "labelFontSize": 12, "labelColor": "#8b8ea6",
                          "labelAlign": {"condition": [{"test": "datum.value > 2", "value": "right"}, {"test": "datum.value < -2", "value": "left"}], "value": "center"},
                          "title": "signal [-]", "titleFontSize": 18, "titleAngle": 270, "titleX": -35, "titleY": 347, "titleAlign": "center", "titleBaseline": "middle",
                          "domainColor": "#4d4d4d", "domainWidth": 2.5, "grid": true,
                          "gridDash": {"condition": {"test": "datum.value > 2", "value": []}, "value": [6, 4]},
                          "gridColor": {"condition": {"test": "datum.value > 2", "value": "#4d4d4d"}, "value": "#1a1a1a"},
                          "gridWidth": {"condition": {"test": "datum.value > 2", "value": 2.5}, "value": 1.3},
                          "gridOpacity": {"condition": {"test": "datum.value < -2", "value": 0}, "value": 1}}}
         }}
      ]
    },
    {"width": 20, "height": 1, "data": {"values": [{}]}, "mark": {"type": "point", "opacity": 0}},
    {
      "spacing": 0, "bounds": "flush",
      "vconcat": [
        {"width": 64, "height": 449, "data": {"values": [{}]}, "mark": {"type": "point", "opacity": 0}},
        {"width": 64, "height": 21, "data": {"values": [{"p": 0}, {"p": 1}]},
         "mark": {"type": "rule", "color": "#000", "strokeWidth": 4},
         "encoding": {"y": {"field": "p", "type": "quantitative", "scale": {"domain": [0, 1], "nice": false}, "axis": null}}}
      ]
    },
    {"width": 59, "height": 1, "data": {"values": [{}]}, "mark": {"type": "point", "opacity": 0}},
    {
      "spacing": 0, "bounds": "flush",
      "vconcat": [
        {"width": 507, "height": 47, "data": {"values": [{}]}, "mark": {"type": "point", "opacity": 0}},
        {"width": 507, "height": 225, "data": {"name": "waves"},
         "title": {"text": "Rec", "font": "Liberation Serif", "fontSize": 23, "fontWeight": "normal", "color": "#000", "offset": -13, "baseline": "alphabetic"},
         "mark": {"type": "line", "color": "#a7c4e2", "strokeWidth": 2.6, "clip": true},
         "encoding": {
           "x": {"field": "t", "type": "quantitative", "scale": {"domain": [2.5, 12.4], "nice": false, "zero": false},
                 "axis": {"values": [2.5, 4.107, 4.975, 7.45, 9.925, 12.4], "format": ".1f", "labelExpr": "abs(datum.value - 4.107) < 0.01 ? '' : datum.label", "labelFlush": true, "labelPadding": 5, "labelFontSize": 18,
                          "title": "t[s]", "titleFontSize": 18, "titleAngle": 270, "titleX": 521, "titleY": -44, "titleAlign": "center", "titleBaseline": "middle",
                          "domainColor": "#555", "domainWidth": 2.5, "grid": true,
                          "gridDash": {"condition": {"test": "abs(datum.value - 4.107) < 0.01", "value": []}, "value": [3, 3]},
                          "gridColor": {"condition": [{"test": "abs(datum.value - 4.107) < 0.01", "value": "#555"}, {"test": "datum.value > 12", "value": "#8c8c8c"}], "value": "#222"},
                          "gridWidth": {"condition": [{"test": "abs(datum.value - 4.107) < 0.01", "value": 2}, {"test": "datum.value > 12", "value": 3}], "value": 1.5},
                          "gridOpacity": {"condition": {"test": "datum.value < 3", "value": 0}, "value": 1}}},
           "y": {"field": "a", "type": "quantitative", "scale": {"domain": [-1, 1], "nice": false},
                 "axis": {"values": [-1, -0.5, 0, 0.5, 1], "labelExpr": "datum.value == 1 ? '1' : (datum.value == -1 ? '-1' : '')", "labelAngle": 270, "labelBaseline": "middle", "labelPadding": 11, "labelFontSize": 18,
                          "labelAlign": {"condition": [{"test": "datum.value > 0.9", "value": "right"}, {"test": "datum.value < -0.9", "value": "left"}], "value": "center"},
                          "title": "sine(0,5) [-]", "titleFontSize": 18, "titleAngle": 270, "titleX": -21, "titleY": 112, "titleAlign": "center", "titleBaseline": "middle",
                          "domainColor": "#555", "domainWidth": 2.5, "grid": true,
                          "gridDash": {"condition": {"test": "datum.value > 0.9", "value": []}, "value": [5, 4]},
                          "gridColor": {"condition": {"test": "datum.value > 0.9", "value": "#666"}, "value": "#222"},
                          "gridWidth": {"condition": {"test": "datum.value > 0.9", "value": 2.5}, "value": 1.3},
                          "gridOpacity": {"condition": {"test": "datum.value < -0.9", "value": 0}, "value": 1}}}
         }},
        {"width": 507, "height": 23, "data": {"values": [{}]}, "mark": {"type": "point", "opacity": 0}},
        {"width": 507, "height": 50, "data": {"values": [{"c": 0.5099, "u0": 0.4606, "u1": 0.5592, "m": 0.5}]},
         "layer": [
           {"mark": {"type": "rule", "color": "#444", "strokeWidth": 3},
            "encoding": {"x": {"field": "c", "type": "quantitative", "scale": {"domain": [0, 1], "nice": false}, "axis": null}}},
           {"mark": {"type": "rule", "color": "#000", "strokeWidth": 3.5},
            "encoding": {"x": {"field": "u0", "type": "quantitative", "scale": {"domain": [0, 1], "nice": false}, "axis": null}, "x2": {"field": "u1"},
                         "y": {"field": "m", "type": "quantitative", "scale": {"domain": [0, 1], "nice": false}, "axis": null}}}
         ]},
        {"width": 507, "height": 19, "data": {"values": [{}]}, "mark": {"type": "point", "opacity": 0}},
        {"width": 507, "height": 220, "data": {"name": "waves"},
         "mark": {"type": "line", "color": "#f0954a", "strokeWidth": 2.6, "clip": true},
         "encoding": {
           "x": {"field": "t", "type": "quantitative", "scale": {"domain": [2.5, 12.4], "nice": false, "zero": false},
                 "axis": {"values": [2.5, 4.107, 4.975, 7.45, 9.925, 12.4], "format": ".1f", "labelExpr": "abs(datum.value - 4.107) < 0.01 ? '' : datum.label", "labelFlush": true, "labelPadding": 5, "labelFontSize": 18,
                          "title": "t[s]", "titleFontSize": 18, "titleAngle": 270, "titleX": 521, "titleY": -44, "titleAlign": "center", "titleBaseline": "middle",
                          "domainColor": "#555", "domainWidth": 2.5, "grid": true,
                          "gridDash": {"condition": {"test": "abs(datum.value - 4.107) < 0.01", "value": []}, "value": [3, 3]},
                          "gridColor": {"condition": [{"test": "abs(datum.value - 4.107) < 0.01", "value": "#555"}, {"test": "datum.value > 12", "value": "#8c8c8c"}], "value": "#222"},
                          "gridWidth": {"condition": [{"test": "abs(datum.value - 4.107) < 0.01", "value": 2}, {"test": "datum.value > 12", "value": 3}], "value": 1.5},
                          "gridOpacity": {"condition": {"test": "datum.value < 3", "value": 0}, "value": 1}}},
           "y": {"field": "b", "type": "quantitative", "scale": {"domain": [-1, 1], "nice": false},
                 "axis": {"values": [-1, -0.5, 0, 0.5, 1], "labelExpr": "datum.value == 1 ? '1' : (datum.value == -1 ? '-1' : '')", "labelAngle": 270, "labelBaseline": "middle", "labelPadding": 11, "labelFontSize": 18,
                          "labelAlign": {"condition": [{"test": "datum.value > 0.9", "value": "right"}, {"test": "datum.value < -0.9", "value": "left"}], "value": "center"},
                          "title": "sine(1) [-]", "titleFontSize": 18, "titleAngle": 270, "titleX": -21, "titleY": 110, "titleAlign": "center", "titleBaseline": "middle",
                          "domainColor": "#555", "domainWidth": 2.5, "grid": true,
                          "gridDash": {"condition": {"test": "datum.value > 0.9", "value": []}, "value": [5, 4]},
                          "gridColor": {"condition": {"test": "datum.value > 0.9", "value": "#666"}, "value": "#222"},
                          "gridWidth": {"condition": {"test": "datum.value > 0.9", "value": 2.5}, "value": 1.3},
                          "gridOpacity": {"condition": {"test": "datum.value < -0.9", "value": 0}, "value": 1}}}
         }},
        {"width": 507, "height": 32, "data": {"values": [{}]}, "mark": {"type": "point", "opacity": 0}},
        {"width": 507, "height": 50, "data": {"values": [{"c": 0.5099, "u0": 0.4606, "u1": 0.5592, "m": 0.5}]},
         "layer": [
           {"mark": {"type": "rule", "color": "#444", "strokeWidth": 3},
            "encoding": {"x": {"field": "c", "type": "quantitative", "scale": {"domain": [0, 1], "nice": false}, "axis": null}}},
           {"mark": {"type": "rule", "color": "#000", "strokeWidth": 3.5},
            "encoding": {"x": {"field": "u0", "type": "quantitative", "scale": {"domain": [0, 1], "nice": false}, "axis": null}, "x2": {"field": "u1"},
                         "y": {"field": "m", "type": "quantitative", "scale": {"domain": [0, 1], "nice": false}, "axis": null}}}
         ]},
        {"width": 507, "height": 22, "data": {"values": [{}]}, "mark": {"type": "point", "opacity": 0}},
        {"width": 507, "height": 221, "data": {"name": "waves"},
         "mark": {"type": "line", "color": "#2d7bc0", "strokeWidth": 2.6, "clip": true},
         "encoding": {
           "x": {"field": "t", "type": "quantitative", "scale": {"domain": [2.5, 12.4], "nice": false, "zero": false},
                 "axis": {"values": [2.5, 4.107, 4.975, 7.45, 9.925, 12.4], "format": ".1f", "labelExpr": "abs(datum.value - 4.107) < 0.01 ? '' : datum.label", "labelFlush": true, "labelPadding": 5, "labelFontSize": 18,
                          "title": "t[s]", "titleFontSize": 18, "titleAngle": 270, "titleX": 521, "titleY": -44, "titleAlign": "center", "titleBaseline": "middle",
                          "domainColor": "#555", "domainWidth": 2.5, "grid": true,
                          "gridDash": {"condition": {"test": "abs(datum.value - 4.107) < 0.01", "value": []}, "value": [3, 3]},
                          "gridColor": {"condition": [{"test": "abs(datum.value - 4.107) < 0.01", "value": "#555"}, {"test": "datum.value > 12", "value": "#8c8c8c"}], "value": "#222"},
                          "gridWidth": {"condition": [{"test": "abs(datum.value - 4.107) < 0.01", "value": 2}, {"test": "datum.value > 12", "value": 3}], "value": 1.5},
                          "gridOpacity": {"condition": {"test": "datum.value < 3", "value": 0}, "value": 1}}},
           "y": {"field": "c", "type": "quantitative", "scale": {"domain": [-1, 1], "nice": false},
                 "axis": {"values": [-1, -0.5, 0, 0.5, 1], "labelExpr": "datum.value == 1 ? '1' : (datum.value == -1 ? '-1' : '')", "labelAngle": 270, "labelBaseline": "middle", "labelPadding": 11, "labelFontSize": 18,
                          "labelAlign": {"condition": [{"test": "datum.value > 0.9", "value": "right"}, {"test": "datum.value < -0.9", "value": "left"}], "value": "center"},
                          "title": "sine(2) [-]", "titleFontSize": 18, "titleAngle": 270, "titleX": -21, "titleY": 110, "titleAlign": "center", "titleBaseline": "middle",
                          "domainColor": "#555", "domainWidth": 2.5, "grid": true,
                          "gridDash": {"condition": {"test": "datum.value > 0.9", "value": []}, "value": [5, 4]},
                          "gridColor": {"condition": {"test": "datum.value > 0.9", "value": "#666"}, "value": "#222"},
                          "gridWidth": {"condition": {"test": "datum.value > 0.9", "value": 2.5}, "value": 1.3},
                          "gridOpacity": {"condition": {"test": "datum.value < -0.9", "value": 0}, "value": 1}}}
         }}
      ]
    }
  ]
}
]
}
